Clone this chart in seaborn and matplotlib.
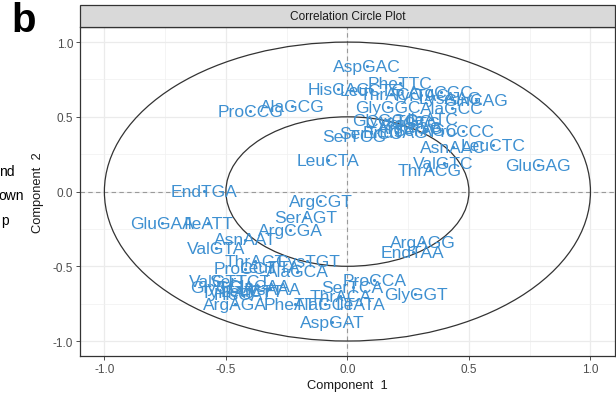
import numpy as np
import pandas as pd
import matplotlib
matplotlib.use("Agg")
import matplotlib.pyplot as plt
from matplotlib.patches import Ellipse, Rectangle
import seaborn as sns

# Codon loadings on the first two components
codons = [
    "AspGAC", "HisCAC", "LeuCTG", "PheTTC", "ThrACC", "TyrTAC", "ArgCGC", "LysAAG",
    "GlnCAG", "GlyGGC", "AlaGCC", "ProCCG", "AlaGCG", "GlyGGG", "CysTGC", "ValGTG",
    "IleATC", "SerTCG", "EndTAG", "SerAGC", "ProCCC", "SerTCC", "ArgCGG", "AsnAAC",
    "LeuCTC", "ValGTC", "ThrACG", "GluGAG", "LeuCTA", "EndTGA", "ArgCGT", "SerAGT",
    "ArgCGA", "GluGAA", "IleATT", "AsnAAT", "ValGTA", "ThrACT", "CysTGT", "ProCCT",
    "LeuTTA", "AlaGCA", "ValGTT", "GlyGGA", "SerTCT", "GlnCAA", "LysAAA", "TyrTAT",
    "HisCAT", "LeuCTT", "SerTCA", "ProCCA", "GlyGGT", "ThrACA", "ArgAGA", "PheTTT",
    "AlaGCT", "IleATA", "AspGAT", "ArgAGG", "EndTAA",
]
comp1 = [
    0.082, -0.037, 0.103, 0.218, 0.181, 0.301, 0.383, 0.424,
    0.527, 0.165, 0.429, -0.400, -0.227, 0.157, 0.210, 0.260,
    0.350, 0.029, 0.198, 0.321, 0.474, 0.095, 0.260, 0.433,
    0.600, 0.396, 0.338, 0.783, -0.078, -0.589, -0.111, -0.173,
    -0.235, -0.762, -0.573, -0.420, -0.540, -0.379, -0.165, -0.420,
    -0.317, -0.206, -0.532, -0.515, -0.441, -0.367, -0.317, -0.490,
    -0.428, -0.391, 0.021, 0.111, 0.280, -0.029, -0.461, -0.214,
    -0.091, 0.054, -0.062, 0.309, 0.268,
]
comp2 = [
    0.840, 0.686, 0.679, 0.726, 0.652, 0.645, 0.666, 0.625,
    0.612, 0.565, 0.559, 0.538, 0.572, 0.478, 0.472, 0.458,
    0.485, 0.371, 0.398, 0.411, 0.405, 0.391, 0.425, 0.298,
    0.311, 0.191, 0.144, 0.177, 0.211, 0.003, -0.064, -0.171,
    -0.258, -0.211, -0.211, -0.324, -0.378, -0.465, -0.465, -0.518,
    -0.505, -0.538, -0.605, -0.639, -0.605, -0.632, -0.652, -0.672,
    -0.692, -0.666, -0.639, -0.592, -0.686, -0.699, -0.753, -0.753,
    -0.753, -0.753, -0.873, -0.338, -0.405,
]
x_ticks = [-1.0, -0.5, 0.0, 0.5, 1.0]
y_ticks = [-1.0, -0.5, 0.0, 0.5, 1.0]
circle_radii = [1.0, 0.5]

df = pd.DataFrame({"codon": codons, "Component 1": comp1, "Component 2": comp2})

sns.set_theme(style="white")
plt.rcParams["font.family"] = ["Liberation Sans", "DejaVu Sans"]

BLUE = "#3E90D1"
DARK = "#333333"

fig = plt.figure(figsize=(6.16, 4.02), dpi=100)
ax = fig.add_axes([0.130, 0.112, 0.868, 0.818])

ax.set_xlim(-1.1, 1.1)
ax.set_ylim(-1.1, 1.1)

# grid (major + minor)
for v in x_ticks:
    ax.axvline(v, color="#EBEBEB", lw=0.9, zorder=0)
for v in np.array(x_ticks[:-1]) + 0.25:
    ax.axvline(v, color="#F0F0F0", lw=0.5, zorder=0)
for v in y_ticks:
    ax.axhline(v, color="#EBEBEB", lw=0.9, zorder=0)
for v in np.array(y_ticks[:-1]) + 0.25:
    ax.axhline(v, color="#F0F0F0", lw=0.5, zorder=0)

# reference lines through the origin
ax.axhline(0, color="#9A9A9A", lw=0.8, ls=(0, (4, 3)), zorder=1)
ax.axvline(0, color="#9A9A9A", lw=0.8, ls=(0, (4, 3)), zorder=1)

# correlation circles
for r in circle_radii:
    ax.add_patch(Ellipse((0, 0), 2 * r, 2 * r, fill=False, ec=DARK, lw=0.9, zorder=2))

sns.scatterplot(data=df, x="Component 1", y="Component 2", ax=ax, color=BLUE,
                s=5, linewidth=0, zorder=3, legend=False)
for name, cx, cy in zip(df["codon"], df["Component 1"], df["Component 2"]):
    ax.text(cx, cy, name, color=BLUE, fontsize=12.6, ha="center", va="center", zorder=4)

ax.set_xticks(x_ticks)
ax.set_yticks(y_ticks)
ax.set_xticklabels([f"{v:.1f}" for v in x_ticks])
ax.set_yticklabels([f"{v:.1f}" for v in y_ticks])
ax.tick_params(axis="both", which="major", length=3, width=0.6, color=DARK,
               labelsize=8.5, labelcolor="#4D4D4D", pad=2, bottom=True, left=True)
ax.set_xlabel("Component  1", fontsize=9.3, color="#1A1A1A", labelpad=3)
ax.set_ylabel("Component  2", fontsize=9.3, color="#1A1A1A", labelpad=6)
for sp in ax.spines.values():
    sp.set_color(DARK)
    sp.set_linewidth(0.9)

# facet strip
strip = Rectangle((0.130, 0.930), 0.868, 0.055, transform=fig.transFigure,
                  facecolor="#D9D9D9", edgecolor=DARK, lw=0.9, clip_on=False)
fig.patches.append(strip)
fig.text(0.130 + 0.868 / 2, 0.957, "Correlation Circle Plot", ha="center", va="center",
         fontsize=8.6, color="#1A1A1A")

# panel letter and neighbouring-panel text
fig.text(0.018, 0.995, "b", fontsize=29, fontweight="bold", ha="left", va="top", color="black")
fig.text(0.023, 0.572, "nd", fontsize=10, ha="right", va="center", color="black")
fig.text(0.039, 0.512, "own", fontsize=10, ha="right", va="center", color="black")
fig.text(0.015, 0.450, "p", fontsize=10, ha="right", va="center", color="black")

fig.savefig("out.png", dpi=100)
